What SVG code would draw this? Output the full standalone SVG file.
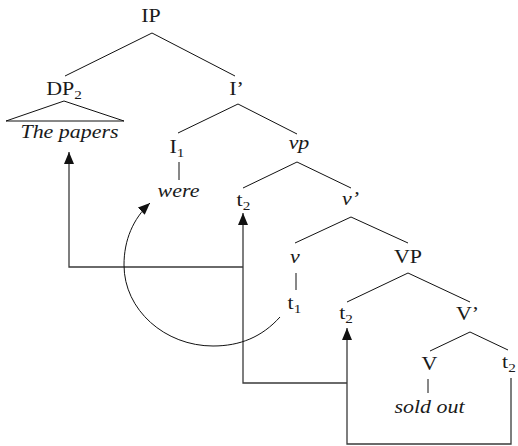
<svg xmlns="http://www.w3.org/2000/svg" width="518" height="446" viewBox="0 0 518 446">
<defs>
<style>
text{font-family:'Liberation Serif','Times New Roman',serif;font-size:18px;fill:#1a1a1a;text-anchor:middle}
.i{font-style:italic}
.s{font-size:12.5px}
.e{stroke:#111;stroke-width:1;fill:none}
.c{stroke:#3a3a3a;stroke-width:1.3;fill:none}
</style>
<marker id="ah" viewBox="0 0 12 10" refX="12" refY="5" markerWidth="12" markerHeight="10" markerUnits="userSpaceOnUse" orient="auto">
<path d="M0,0 L12,5 L0,10 Z" fill="#111"/>
</marker>
</defs>
<rect width="518" height="446" fill="#fff"/>
<g transform="scale(1.22,1)">
<g id="IP"><text x="123.77" y="22">IP</text></g>
<g id="DP2"><text x="52.46" y="95">DP<tspan class="s" dy="4">2</tspan></text></g>
<g id="ThePapers"><text class="i" x="56.97" y="138">The papers</text></g>
<g id="Ibar"><text x="193.85" y="95">I’</text></g>
<g id="I1"><text x="145.08" y="153">I<tspan class="s" dy="4">1</tspan></text></g>
<g id="were"><text class="i" x="146.31" y="197">were</text></g>
<g id="vp"><text class="i" x="245.08" y="149">vp</text></g>
<g id="t2a"><text x="199.59" y="206">t<tspan class="s" dy="4">2</tspan></text></g>
<g id="vbar"><text class="i" x="287.3" y="205">v’</text></g>
<g id="v"><text class="i" x="241.8" y="263">v</text></g>
<g id="VP"><text x="334.43" y="263">VP</text></g>
<g id="t1"><text x="241.39" y="309">t<tspan class="s" dy="4">1</tspan></text></g>
<g id="t2b"><text x="283.61" y="319">t<tspan class="s" dy="4">2</tspan></text></g>
<g id="Vbar"><text x="383.2" y="320">V’</text></g>
<g id="V"><text x="352.05" y="370">V</text></g>
<g id="t2c"><text x="417.2" y="368">t<tspan class="s" dy="4">2</tspan></text></g>
<g id="soldout"><text class="i" x="352.05" y="413">sold out</text></g>
</g>
<g id="triangle"><path class="e" d="M64,101 L6,121 L124,121 Z"/></g>
<g id="branches">
<path class="e" d="M152,33 L65,76 M152,33 L235,76"/>
<path class="e" d="M238,104 L178,133 M238,104 L297,134"/>
<path class="e" d="M179,162 V180"/>
<path class="e" d="M297,162 L243,188 M297,162 L351,188"/>
<path class="e" d="M351,217 L295,243 M351,217 L408,243"/>
<path class="e" d="M296,273 V290"/>
<path class="e" d="M408,273 L347,302 M408,273 L470,302"/>
<path class="e" d="M470,332 L430,351 M470,332 L508,350"/>
<path class="e" d="M428,379 V393"/>
</g>
<g id="connectors">
<path class="c" d="M511,378 V444 H347 V328" marker-end="url(#ah)"/>
<path class="c" d="M347,383 H243 V213" marker-end="url(#ah)"/>
<path class="c" d="M243,267 H69 V152" marker-end="url(#ah)"/>
<path class="e" d="M280,317 C262,337 240,346 213,346 C165,346 124,310 124,265 C124,240 133,219 150,203" marker-end="url(#ah)"/>
</g>
</svg>
